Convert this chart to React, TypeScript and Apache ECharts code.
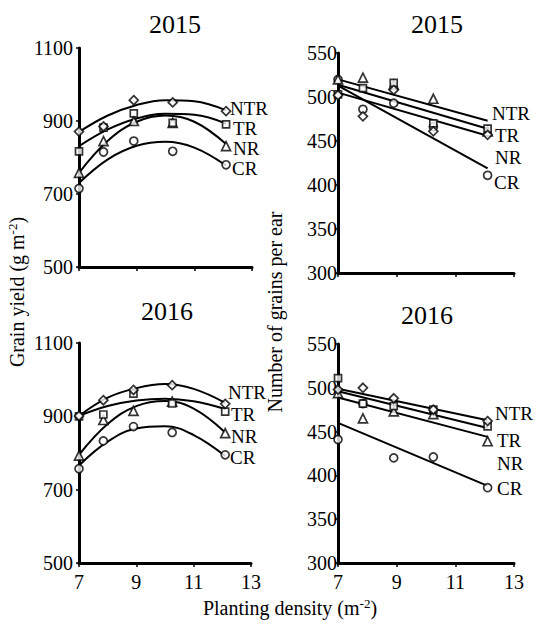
import React, { useEffect, useRef } from "react";
import * as echarts from "echarts";

// Planting densities (plants m-2)
const density = [7.0, 7.85, 8.9, 10.25, 12.1];
const treatments = ["NTR", "TR", "NR", "CR"];
const symbols = ["diamond", "rect", "triangle", "circle"];
const symbolSizes = [9, 7, 9, 8];

// Grain yield 2015 (g m-2)
const yield15NTR = [871, 885, 957, 951, 927];
const yield15TR = [817, 882, 921, 895, 891];
const yield15NR = [758, 845, 900, 895, 831];
const yield15CR = [715, 815, 845, 817, 780];
// Grain yield 2016 (g m-2)
const yield16NTR = [901, 944, 972, 985, 934];
const yield16TR = [900, 905, 962, 935, 913];
const yield16NR = [793, 890, 915, 940, 854];
const yield16CR = [757, 833, 872, 856, 795];
// Grains per ear 2015
const grains15NTR = [502, 478, 508, 461, 457];
const grains15TR = [503, 510, 516, 470, 464];
const grains15NR = [520, 522, 514, 498, 461];
const grains15CR = [520, 486, 493, 466, 411];
// Grains per ear 2016
const grains16NTR = [498, 500, 488, 475, 462];
const grains16TR = [511, 482, 479, 475, 456];
const grains16NR = [494, 465, 473, 470, 439];
const grains16CR = [441, 482, 420, 421, 386];

// Quadratic trend curves for yield
const curveX = [7, 8, 9, 10, 11, 12.1];
const fit15NTR = [870, 915, 944, 957, 954, 929];
const fit15TR = [831, 877, 907, 920, 917, 893];
const fit15NR = [758, 846, 898, 915, 898, 837];
const fit15CR = [730, 795, 832, 843, 827, 778];
const fit16NTR = [901, 951, 977, 988, 975, 937];
const fit16TR = [901, 928, 943, 948, 941, 920];
const fit16NR = [795, 879, 928, 942, 921, 856];
const fit16CR = [766, 831, 867, 873, 849, 792];

// Linear trend lines for grains per ear (end points)
const lineX = [7, 12.1];
const line15NTR = [505, 456];
const line15TR = [514, 464];
const line15NR = [520, 473];
const line15CR = [513, 419];
const line16NTR = [499, 463];
const line16TR = [496, 454];
const line16NR = [489, 444];
const line16CR = [460, 388];

// Axis ticks
const xTicks = [7, 9, 11, 13];
const yieldTicks = [500, 700, 900, 1100];
const grainTicks = [300, 350, 400, 450, 500, 550];

const panelTitles = ["2015", "2015", "2016", "2016"];

const FONT = "Liberation Serif";

const pairs = (xs: number[], ys: number[]) => xs.map((x, i) => [x, ys[i]]);

export default function App() {
  const ref = useRef<HTMLDivElement>(null);

  useEffect(() => {
    if (!ref.current) return;
    const chart = echarts.init(ref.current, undefined, { renderer: "svg" });

    const grids = [
      { left: 79, top: 48, width: 173, height: 219 },
      { left: 338, top: 53, width: 176, height: 220 },
      { left: 79, top: 343, width: 172, height: 220 },
      { left: 338, top: 344, width: 176, height: 219 },
    ];

    const xAxis = grids.map((_, i) => ({
      type: "value",
      gridIndex: i,
      min: xTicks[0],
      max: xTicks[xTicks.length - 1],
      interval: xTicks[1] - xTicks[0],
      axisLine: { onZero: false, lineStyle: { color: "#000", width: 3 } },
      axisTick: { show: true, length: 4, lineStyle: { color: "#000", width: 1.5 } },
      splitLine: { show: false },
      axisLabel: {
        show: i >= 2,
        color: "#000",
        fontFamily: FONT,
        fontSize: 20,
        margin: 9,
        formatter: (v: number) => String(v),
      },
    }));

    const yAxis = grids.map((_, i) => {
      const ticks = i % 2 === 0 ? yieldTicks : grainTicks;
      return {
        type: "value",
        gridIndex: i,
        min: ticks[0],
        max: ticks[ticks.length - 1],
        interval: ticks[1] - ticks[0],
        axisLine: { show: true, onZero: false, lineStyle: { color: "#000", width: 3 } },
        axisTick: { show: true, length: 3, lineStyle: { color: "#000", width: 1.5 } },
        splitLine: { show: false },
        axisLabel: {
          color: "#000",
          fontFamily: FONT,
          fontSize: 20,
          margin: i % 2 === 0 ? 6 : 1,
          formatter: (v: number) => String(v),
        },
      };
    });

    const scatterData = [
      [yield15NTR, yield15TR, yield15NR, yield15CR],
      [grains15NTR, grains15TR, grains15NR, grains15CR],
      [yield16NTR, yield16TR, yield16NR, yield16CR],
      [grains16NTR, grains16TR, grains16NR, grains16CR],
    ];
    const trendData = [
      [fit15NTR, fit15TR, fit15NR, fit15CR],
      [line15NTR, line15TR, line15NR, line15CR],
      [fit16NTR, fit16TR, fit16NR, fit16CR],
      [line16NTR, line16TR, line16NR, line16CR],
    ];

    const series: any[] = [];
    for (let p = 0; p < 4; p++) {
      const curved = p % 2 === 0;
      for (let t = 0; t < 4; t++) {
        series.push({
          type: "line",
          name: treatments[t] + " trend " + p,
          xAxisIndex: p,
          yAxisIndex: p,
          data: curved ? pairs(curveX, trendData[p][t]) : pairs(lineX, trendData[p][t]),
          smooth: curved ? 0.4 : false,
          showSymbol: false,
          symbol: "none",
          lineStyle: { color: "#000", width: 2 },
          z: 2,
        });
      }
      for (let t = 3; t >= 0; t--) {
        series.push({
          type: "scatter",
          name: treatments[t] + " " + p,
          xAxisIndex: p,
          yAxisIndex: p,
          data: pairs(density, scatterData[p][t]),
          symbol: symbols[t],
          symbolSize: symbolSizes[t],
          itemStyle: { color: "#fff", borderColor: "#000", borderWidth: 1.7 },
          z: 5 + (3 - t),
        });
      }
    }

    const labelPos = [
      [[230, 108], [233, 128], [233, 148], [232, 168]],
      [[492, 113], [495, 135], [495, 157], [494, 182]],
      [[228, 392], [231, 414], [231, 436], [230, 457]],
      [[495, 413], [497, 440], [497, 463], [497, 488]],
    ];
    const titlePos = [
      [175, 24],
      [437, 24],
      [167, 311],
      [427, 315],
    ];

    const txt = (extra: any) => ({
      fill: "#000",
      fontFamily: FONT,
      fontSize: 20,
      align: "left",
      verticalAlign: "middle",
      ...extra,
    });

    const graphic: any[] = [];
    labelPos.forEach((panel) =>
      panel.forEach((pos, t) =>
        graphic.push({
          type: "text",
          x: pos[0],
          y: pos[1],
          style: txt({ text: treatments[t], fontSize: 19 }),
        })
      )
    );
    titlePos.forEach((pos, i) =>
      graphic.push({
        type: "text",
        x: pos[0],
        y: pos[1],
        style: txt({ text: panelTitles[i], fontSize: 26, align: "center" }),
      })
    );
    const supRich = {
      sup: { fontSize: 13, fontFamily: FONT, fill: "#000", padding: [0, 0, 9, 0] },
    };
    graphic.push({
      type: "text",
      x: 17,
      y: 292,
      rotation: Math.PI / 2,
      style: txt({ text: "Grain yield (g m{sup|-2})", align: "center", rich: supRich }),
    });
    graphic.push({
      type: "text",
      x: 275,
      y: 312,
      rotation: Math.PI / 2,
      style: txt({ text: "Number of grains per ear", align: "center" }),
    });
    graphic.push({
      type: "text",
      x: 290,
      y: 608,
      style: txt({ text: "Planting density (m{sup|-2})", align: "center", rich: supRich }),
    });

    chart.setOption({
      animation: false,
      backgroundColor: "#fff",
      grid: grids,
      xAxis,
      yAxis,
      series,
      graphic,
    });

    return () => chart.dispose();
  }, []);

  return (
    <div
      ref={ref}
      style={{ width: 535, height: 625, position: "absolute", left: 0, top: 0 }}
    />
  );
}
